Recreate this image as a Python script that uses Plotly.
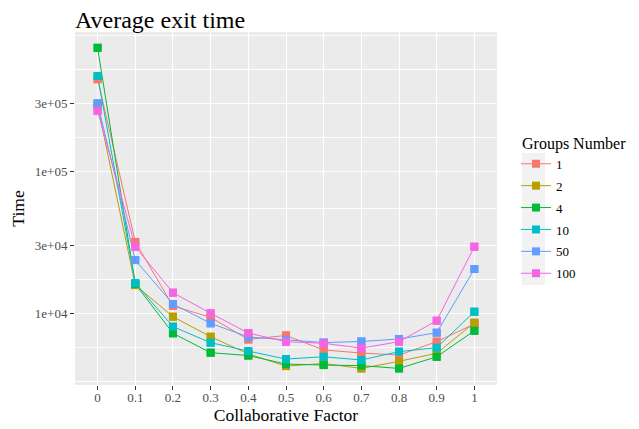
import plotly.graph_objects as go
import numpy as np

factor = ["0", "0.1", "0.2", "0.3", "0.4", "0.5", "0.6", "0.7", "0.8", "0.9", "1"]
groups = ["1", "2", "4", "10", "50", "100"]
g1 = [445000, 31800, 11250, 9370, 6540, 6980, 5520, 5250, 5080, 6310, 8410]
g2 = [290000, 15800, 9460, 6840, 5170, 4250, 4430, 4090, 4590, 5230, 8580]
g4 = [741000, 16100, 7230, 5280, 5040, 4390, 4320, 4280, 4090, 4940, 7540]
g10 = [469000, 16300, 8050, 6210, 5420, 4760, 4940, 4690, 5370, 5730, 10260]
g50 = [301000, 23700, 11630, 8500, 6810, 6490, 6220, 6330, 6590, 7300, 20500]
g100 = [267000, 29400, 13970, 10000, 7260, 6310, 6150, 5680, 6310, 8870, 29440]
series = [g1, g2, g4, g10, g50, g100]
colors = ["#F8766D", "#B79F00", "#00BA38", "#00BFC4", "#619CFF", "#F564E3"]

y_breaks = [1e4, 3e4, 1e5, 3e5]
y_labels = ["1e+04", "3e+04", "1e+05", "3e+05"]

# ggplot-style minor breaks (midpoints in log space, extended one step)
lb = list(np.log10(y_breaks))
step = lb[1] - lb[0]
ext = [lb[0] - step] + lb + [lb[-1] + step]
minor = []
for a, b in zip(ext[:-1], ext[1:]):
    minor.append(a)
    minor.append((a + b) / 2)
minor.append(ext[-1])
minor_vals = [10 ** m for m in minor if not any(abs(m - x) < 1e-9 for x in lb)]

FONT = "Liberation Serif"
fig = go.Figure()
for name, ys, c in zip(groups, series, colors):
    fig.add_trace(go.Scatter(x=factor, y=ys, mode="lines+markers", name=name,
                             line=dict(color=c, width=1),
                             marker=dict(symbol="square", size=8, color=c),
                             legendgroup=name, showlegend=True))
for name, ys, c in zip(groups, series, colors):
    fig.add_trace(go.Scatter(x=factor, y=ys, mode="markers", name=name,
                             marker=dict(symbol="square", size=8, color=c),
                             legendgroup=name, showlegend=False, hoverinfo="skip"))

# page body has an 8px margin: figure coords = screen coords - 8
OFF = 8
W, H = 639 - OFF, 429 - OFF
L, R, T, B = 75 - OFF, 142, 32 - OFF, 44
pw, ph = W - L - R, H - T - B

def px_x(p):
    return (p - OFF - L) / pw

def px_y(p):
    return (H - B - (p - OFF)) / ph

fig.add_shape(type="rect", xref="paper", yref="paper",
              x0=px_x(522), x1=px_x(545), y0=px_y(285), y1=px_y(153),
              fillcolor="#F2F2F2", line=dict(width=0), layer="below")

fig.update_layout(
    width=W, height=H,
    margin=dict(l=L, r=R, t=T, b=B, autoexpand=False),
    paper_bgcolor="white", plot_bgcolor="#EBEBEB",
    font=dict(family=FONT, color="black"),
    title=dict(text="Average exit time", font=dict(size=24, family=FONT, color="black"),
               x=px_x(75), xref="paper", xanchor="left",
               y=1 - 3 / H, yref="container", yanchor="top"),
    legend=dict(title=dict(text="\u00a0Groups Number", font=dict(size=16, family=FONT)),
                font=dict(size=13, family=FONT),
                xref="container", yref="container",
                x=(516 - OFF) / W, xanchor="left", y=1 - (128 - OFF) / H, yanchor="top",
                bgcolor="rgba(0,0,0,0)", tracegroupgap=2),
    showlegend=True,
)
fig.update_xaxes(type="category", range=[-0.6, 10.6], automargin=False,
                 showgrid=True, gridcolor="white", gridwidth=1.1,
                 ticks="outside", ticklen=4, tickcolor="#333333", tickwidth=1,
                 ticklabelstandoff=-4,
                 tickfont=dict(size=13, color="#4D4D4D", family=FONT),
                 title=dict(text="Collaborative Factor", font=dict(size=17.5, family=FONT), standoff=0),
                 zeroline=False, showline=False)
fig.update_yaxes(type="log", range=[3.495, 5.981], automargin=False,
                 tickvals=y_breaks, ticktext=y_labels,
                 showgrid=True, gridcolor="white", gridwidth=1.1,
                 minor=dict(tickmode="array", tickvals=minor_vals, showgrid=True,
                            gridcolor="white", gridwidth=0.5, ticks=""),
                 ticks="outside", ticklen=4, tickcolor="#333333", tickwidth=1,
                 tickfont=dict(size=13, color="#4D4D4D", family=FONT),
                 title=dict(text="Time", font=dict(size=17.5, family=FONT), standoff=6),
                 zeroline=False, showline=False)

fig.write_html("out.html")
